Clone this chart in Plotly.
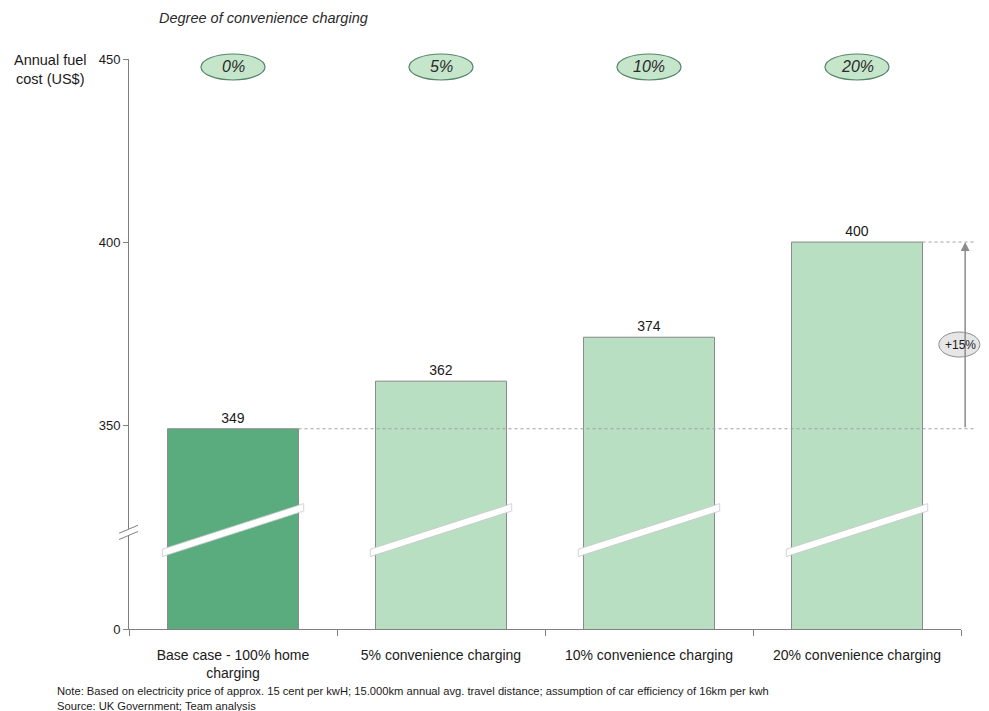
import plotly.graph_objects as go

# ---- data ----
categories = ["Base case - 100% home<br>charging", "5% convenience charging",
              "10% convenience charging", "20% convenience charging"]
fuel_cost = [349, 362, 374, 400]
degree_labels = ["0%", "5%", "10%", "20%"]
bar_colors = ["#5aab7e", "#b9dfc2", "#b9dfc2", "#b9dfc2"]
ytick_values = [350, 400, 450]
increase_label = "+15%"

FONT = "Liberation Sans, Arial, sans-serif"
AXIS_FLOOR = 294.3   # where the broken axis shows "0"
BAR_W = 0.63
HALF = BAR_W / 2

fig = go.Figure()
fig.add_trace(go.Bar(
    x=categories, y=fuel_cost, width=BAR_W,
    marker=dict(color=bar_colors, line=dict(color="#8a8a8a", width=1)),
    text=[str(v) for v in fuel_cost], textposition="outside",
    textfont=dict(family=FONT, size=14, color="#1a1a1a"),
    cliponaxis=False, hoverinfo="skip", showlegend=False,
))

shapes = []
annotations = []

# break bands across each bar
for i in range(len(categories)):
    x0 = i - HALF - 0.025
    x1 = i + HALF + 0.025
    shapes.append(dict(
        type="path", xref="x", yref="paper",
        path=f"M {x0} 0.140 L {x1} 0.220 L {x1} 0.207 L {x0} 0.127 Z",
        fillcolor="white", line=dict(color="#c8c8c8", width=0.8), layer="above"))

# axis break marks on the y-axis
shapes.append(dict(type="path", xref="paper", yref="paper",
                   path="M -0.0120 0.168 L 0.0108 0.182 L 0.0108 0.171 L -0.0120 0.157 Z",
                   fillcolor="white", line=dict(width=0), layer="above"))
for (ya, yb) in [(0.168, 0.182), (0.157, 0.171)]:
    shapes.append(dict(type="line", xref="paper", yref="paper",
                       x0=-0.0120, y0=ya, x1=0.0108, y1=yb,
                       line=dict(color="#808080", width=1), layer="above"))

# dotted reference lines
shapes.append(dict(type="line", xref="paper", yref="y",
                   x0=(0 + HALF + 0.5) / 4, x1=1.017, y0=fuel_cost[0], y1=fuel_cost[0],
                   line=dict(color="#a0a0a0", width=1, dash="dot")))
shapes.append(dict(type="line", xref="paper", yref="y",
                   x0=(3 + HALF + 0.5) / 4, x1=1.017, y0=fuel_cost[3], y1=fuel_cost[3],
                   line=dict(color="#a0a0a0", width=1, dash="dot")))

# growth arrow
annotations.append(dict(xref="paper", yref="y", x=1.005, y=fuel_cost[3],
                        axref="pixel", ayref="y", ax=0, ay=fuel_cost[0],
                        text="", showarrow=True, arrowhead=2, arrowsize=1.2,
                        arrowwidth=1.5, arrowcolor="#8c8c8c"))
ymid = (fuel_cost[0] + fuel_cost[3]) / 2 - 2.5
shapes.append(dict(type="circle", xref="paper", yref="y",
                   xsizemode="pixel", ysizemode="pixel",
                   xanchor=0.998, yanchor=ymid, x0=-20.5, x1=20.5, y0=-12.5, y1=12.5,
                   fillcolor="#e6e6e6", line=dict(color="#8c8c8c", width=1), layer="above"))
annotations.append(dict(xref="paper", yref="y", x=0.999, y=ymid, text=increase_label,
                        xanchor="center", yanchor="middle",
                        showarrow=False, font=dict(family=FONT, size=12, color="#1a1a1a")))

# degree ovals on top
for i, lab in enumerate(degree_labels):
    shapes.append(dict(type="circle", xref="x", yref="paper",
                       xsizemode="pixel", ysizemode="pixel",
                       xanchor=i, yanchor=0.986, x0=-32, x1=32, y0=-13, y1=13,
                       fillcolor="#c6e6cc", line=dict(color="#55866a", width=1.2),
                       layer="above"))
    annotations.append(dict(xref="x", yref="paper", x=i, y=0.986, text=f"<i>{lab}</i>",
                            xanchor="center", yanchor="middle",
                            showarrow=False,
                            font=dict(family=FONT, size=16, color="#2a2a2a")))

# title-ish texts
annotations.append(dict(xref="paper", yref="paper", x=0.0337, y=1.072,
                        xanchor="left", yanchor="middle",
                        text="<i>Degree of convenience charging</i>", showarrow=False,
                        font=dict(family=FONT, size=14.5, color="#2a2a2a")))
annotations.append(dict(xref="paper", yref="paper", x=-0.094, y=0.982,
                        xanchor="center", yanchor="middle",
                        text="Annual fuel<br>cost (US$)", showarrow=False,
                        font=dict(family=FONT, size=14.5, color="#1a1a1a")))
annotations.append(dict(xref="paper", yref="paper", x=-0.089, y=-0.094,
                        xanchor="left", yanchor="top", align="left",
                        text="Note: Based on electricity price of approx. 15 cent per kwH; 15.000km annual avg. travel distance; assumption of car efficiency of 16km per kwh<br>Source: UK Government; Team analysis",
                        showarrow=False,
                        font=dict(family=FONT, size=11.2, color="#1a1a1a")))

# page body adds an 8px offset, so the figure is drawn smaller to fit the window
fig.update_layout(
    width=973, height=703,
    margin=dict(l=121, r=20, t=51, b=82),
    paper_bgcolor="white", plot_bgcolor="white",
    shapes=shapes, annotations=annotations,
    showlegend=False, bargap=0.37,
    font=dict(family=FONT, size=13, color="#1a1a1a"),
)
fig.update_xaxes(
    type="category", range=[-0.5, 3.5], showline=True, linecolor="#808080", linewidth=1,
    tickson="boundaries", ticks="outside", ticklen=6, tickcolor="#808080",
    ticklabelstandoff=13,
    showgrid=False, zeroline=False,
    tickfont=dict(family=FONT, size=14, color="#1a1a1a"),
)
fig.update_yaxes(
    range=[AXIS_FLOOR, 450],
    tickvals=[AXIS_FLOOR] + ytick_values,
    ticktext=["0"] + [str(v) for v in ytick_values],
    showline=True, linecolor="#808080", linewidth=1,
    ticks="outside", ticklen=5, tickcolor="#808080",
    showgrid=False, zeroline=False,
    tickfont=dict(family=FONT, size=13, color="#1a1a1a"),
)

fig.write_html("out.html")
